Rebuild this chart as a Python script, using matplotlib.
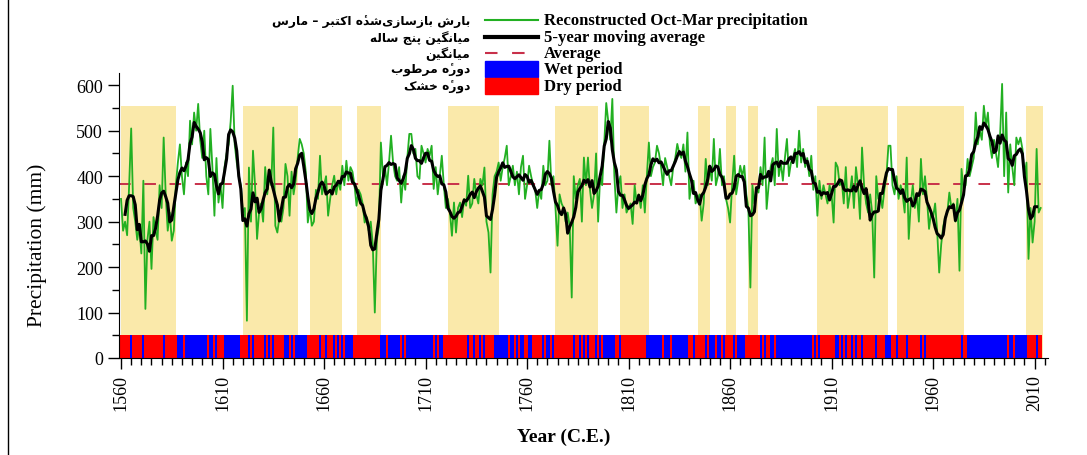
import numpy as np
import pandas as pd
import matplotlib
matplotlib.use("Agg")
import matplotlib.pyplot as plt
from matplotlib.lines import Line2D
from matplotlib.patches import Rectangle

# Oct-Mar precipitation (mm), one value per year from 1560
precip = [
    350, 280, 300, 270, 380, 505, 330, 300, 260, 290,
    230, 390, 108, 260, 300, 196, 310, 280, 260, 380,
    330, 485, 360, 280, 320, 258, 280, 380, 430, 470,
    400, 360, 430, 400, 522, 470, 540, 500, 559, 480,
    440, 500, 400, 360, 504, 420, 313, 440, 342, 380,
    330, 420, 450, 470, 520, 599, 470, 430, 400, 380,
    320, 330, 82, 419, 300, 456, 380, 262, 320, 340,
    300, 420, 360, 400, 380, 507, 291, 276, 310, 300,
    330, 427, 400, 313, 410, 360, 390, 440, 482, 470,
    450, 410, 298, 330, 291, 300, 370, 350, 445, 360,
    380, 400, 313, 350, 380, 401, 360, 390, 370, 423,
    380, 434, 390, 420, 410, 380, 335, 370, 360, 340,
    298, 310, 280, 300, 250, 100, 260, 290, 474, 400,
    420, 380, 430, 489, 430, 400, 390, 420, 342, 400,
    370, 440, 493, 493, 450, 460, 400, 394, 467, 450,
    430, 460, 445, 467, 372, 420, 360, 400, 445, 380,
    330, 350, 320, 269, 342, 276, 330, 342, 310, 350,
    335, 401, 330, 340, 394, 360, 340, 394, 380, 419,
    300, 276, 188, 360, 400, 410, 430, 390, 420, 440,
    467, 380, 400, 423, 380, 410, 360, 420, 445, 350,
    380, 423, 400, 380, 370, 330, 370, 350, 423, 380,
    390, 478, 380, 400, 330, 247, 360, 340, 330, 300,
    320, 290, 133, 400, 350, 380, 394, 300, 441, 380,
    441, 370, 330, 360, 450, 300, 400, 380, 470, 561,
    520, 480, 570, 400, 320, 380, 400, 330, 360, 320,
    330, 340, 295, 380, 340, 360, 330, 380, 320, 400,
    474, 400, 420, 430, 467, 450, 420, 380, 440, 420,
    400, 380, 420, 440, 471, 450, 440, 470, 410, 496,
    350, 380, 390, 340, 350, 360, 302, 340, 438, 380,
    420, 390, 482, 380, 400, 460, 380, 400, 350, 330,
    298, 380, 445, 360, 390, 423, 400, 423, 360, 330,
    155, 380, 340, 370, 364, 420, 380, 485, 328, 380,
    420, 440, 380, 504, 400, 430, 390, 440, 482, 400,
    430, 440, 460, 420, 500, 430, 460, 420, 440, 400,
    445, 370, 400, 313, 390, 350, 380, 360, 340, 380,
    360, 298, 430, 420, 380, 390, 340, 420, 330, 360,
    400, 330, 420, 380, 306, 463, 380, 340, 320, 360,
    320, 177, 400, 350, 360, 330, 370, 400, 467, 467,
    380, 360, 400, 350, 380, 360, 320, 441, 262, 340,
    380, 330, 360, 300, 438, 360, 400, 350, 284, 320,
    310, 340, 280, 188, 250, 290, 310, 320, 364, 330,
    340, 300, 350, 192, 416, 370, 380, 438, 400, 420,
    440, 540, 470, 500, 480, 555, 510, 540, 470, 440,
    480, 450, 420, 490, 603, 400, 540, 364, 470, 420,
    380, 485, 470, 485, 460, 400, 430, 218, 330, 254,
    300, 460, 320, 330,
]
first_year = 1560
average = 383

# shaded dry periods (start, end)
dry_start = [1560, 1620, 1653, 1676, 1721, 1774, 1806, 1844, 1858, 1869, 1903, 1942, 2006]
dry_end = [1587, 1647, 1669, 1688, 1746, 1795, 1820, 1850, 1863, 1874, 1938, 1975, 2014]
span_top = 555
strip_height = 50

# Persian labels and their English counterparts
labels_fa = ["بارش بازسازی\u200cشده\u0654 اکتبر – مارس", "میانگین پنج ساله", "میانگین",
             "دوره\u0654 مرطوب", "دوره\u0654 خشک"]
labels_en = ["Reconstructed Oct-Mar precipitation", "5-year moving average", "Average",
             "Wet period", "Dry period"]

# --- simple Persian shaping (matplotlib has no bidi/shaping) ---
FORMS = {
    '\u0627': ('\uFE8D', '\uFE8E'),
    '\u062F': ('\uFEA9', '\uFEAA'),
    '\u0631': ('\uFEAD', '\uFEAE'),
    '\u0632': ('\uFEAF', '\uFEB0'),
    '\u0648': ('\uFEED', '\uFEEE'),
    '\u0628': ('\uFE8F', '\uFE90', '\uFE91', '\uFE92'),
    '\u067E': ('\uFB56', '\uFB57', '\uFB58', '\uFB59'),
    '\u062A': ('\uFE95', '\uFE96', '\uFE97', '\uFE98'),
    '\u062C': ('\uFE9D', '\uFE9E', '\uFE9F', '\uFEA0'),
    '\u062E': ('\uFEA5', '\uFEA6', '\uFEA7', '\uFEA8'),
    '\u0633': ('\uFEB1', '\uFEB2', '\uFEB3', '\uFEB4'),
    '\u0634': ('\uFEB5', '\uFEB6', '\uFEB7', '\uFEB8'),
    '\u0637': ('\uFEC1', '\uFEC2', '\uFEC3', '\uFEC4'),
    '\u06A9': ('\uFB8E', '\uFB8F', '\uFB90', '\uFB91'),
    '\u06AF': ('\uFB92', '\uFB93', '\uFB94', '\uFB95'),
    '\u0644': ('\uFEDD', '\uFEDE', '\uFEDF', '\uFEE0'),
    '\u0645': ('\uFEE1', '\uFEE2', '\uFEE3', '\uFEE4'),
    '\u0646': ('\uFEE5', '\uFEE6', '\uFEE7', '\uFEE8'),
    '\u0647': ('\uFEE9', '\uFEEA', '\uFEEB', '\uFEEC'),
    '\u06CC': ('\uFBFC', '\uFBFD', '\uFBFE', '\uFBFF'),
}
MARKS = '\u0654'


def farsi(text):
    base = [c for c in text if c not in MARKS]
    out = []
    k = 0
    for c in text:
        if c in MARKS:
            out[-1] = out[-1] + c
            continue
        i = k
        k += 1
        if c not in FORMS:
            out.append('' if c == '\u200c' else c)
            continue
        prev = base[i - 1] if i > 0 else ''
        nxt = base[i + 1] if i + 1 < len(base) else ''
        jp = prev in FORMS and len(FORMS[prev]) == 4
        jn = nxt in FORMS and len(FORMS[c]) == 4
        f = FORMS[c]
        if jp and jn:
            out.append(f[3])
        elif jp:
            out.append(f[1])
        elif jn:
            out.append(f[2])
        else:
            out.append(f[0])
    return ''.join(reversed(out))


years = np.arange(first_year, first_year + len(precip))
s = pd.Series(precip, index=years)
ma5 = s.rolling(5, center=True).mean()

serif = ['Liberation Serif', 'DejaVu Serif']
green = '#22b022'
red_dash = '#c8304a'
yellow = '#fae9aa'

fig = plt.figure(figsize=(10.87, 4.56), dpi=100)
ax = fig.add_axes([119 / 1087, 1 - 359 / 456, 929 / 1087, 285 / 456])

for a, b in zip(dry_start, dry_end):
    ax.fill_between([a, b], 0, span_top, color=yellow, lw=0, zorder=0)

strip_colors = ['#ff0000' if v < average else '#0000ff' for v in precip]
ax.bar(years, strip_height, width=1.0, bottom=0, color=strip_colors, lw=0, zorder=1)

ax.plot(years, precip, color=green, lw=1.3, zorder=3)
ax.plot(ma5.index, ma5.values, color='black', lw=2.2, zorder=4)
ax.axhline(average, color=red_dash, lw=1.4, dashes=(6, 7), zorder=2)

ax.set_xlim(1559, 2016.6)
ax.set_ylim(0, 627)
for sp in ['top', 'right']:
    ax.spines[sp].set_visible(False)
ax.set_xticks(np.arange(1560, 2011, 50))
ax.set_xticks(np.arange(1560, 2016, 5), minor=True)
ax.set_yticks(np.arange(0, 601, 100))
ax.set_yticks(np.arange(0, 627, 50), minor=True)
ax.tick_params(axis='both', which='major', length=8, width=1)
ax.tick_params(axis='both', which='minor', length=5, width=1)
for lab in ax.get_xticklabels():
    lab.set_rotation(90)
    lab.set_fontfamily(serif)
    lab.set_fontsize(13)
for lab in ax.get_yticklabels():
    lab.set_fontfamily(serif)
    lab.set_fontsize(13)
ax.set_ylabel("Precipitation (mm)", family=serif, fontsize=15.5)
ax.yaxis.set_label_coords(-0.078, 0.4)
fig.text(564 / 1087, 1 - 437 / 456, "Year (C.E.)", family=serif, fontsize=14,
         fontweight='bold', ha='center', va='center')

# --- legend drawn in figure pixels ---
W, H = 1087, 456
rows = [21, 38, 54, 70, 87]
hx0, hx1 = 485, 538


def fx(px):
    return px / W


def fy(py):
    return 1 - py / H


fig.add_artist(Line2D([fx(hx0), fx(hx1)], [fy(rows[0])] * 2, color=green, lw=1.5))
fig.add_artist(Line2D([fx(hx0), fx(hx1)], [fy(rows[1])] * 2, color='black', lw=3))
fig.add_artist(Line2D([fx(hx0), fx(hx1)], [fy(rows[2])] * 2, color=red_dash, lw=1.5,
                      dashes=(6, 7)))
fig.add_artist(Rectangle((fx(hx0), fy(78)), fx(hx1 - hx0), 16 / H, color='#0000ff'))
fig.add_artist(Rectangle((fx(hx0), fy(95)), fx(hx1 - hx0), 16 / H, color='#ff0000'))
for r, en, fa in zip(rows, labels_en, labels_fa):
    fig.text(fx(544), fy(r), en, family=serif, fontweight='bold', fontsize=12,
             ha='left', va='center')
    fig.text(fx(470), fy(r), farsi(fa), family=['DejaVu Sans'], fontweight='bold',
             fontsize=8.8, ha='right', va='center')

fig.add_artist(Line2D([fx(8), fx(8)], [0, 1], color='black', lw=1))

fig.savefig("out.png", dpi=100)
